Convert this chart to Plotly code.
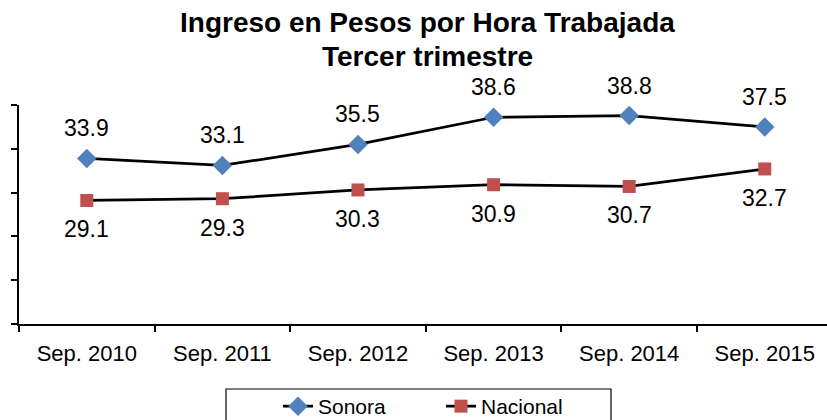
import plotly.graph_objects as go

categories = ["Sep. 2010", "Sep. 2011", "Sep. 2012", "Sep. 2013", "Sep. 2014", "Sep. 2015"]
sonora = [33.9, 33.1, 35.5, 38.6, 38.8, 37.5]
nacional = [29.1, 29.3, 30.3, 30.9, 30.7, 32.7]
title_lines = ["Ingreso en Pesos por Hora Trabajada", "Tercer trimestre"]

FONT = "Liberation Sans, Arial, sans-serif"
W, H = 827, 420
ML, MT, MB = 19, 105, 96
PW, PH = W - ML, H - MT - MB


def px_x(p):
    return (p - ML) / PW


def px_y(p):
    return (H - MB - p) / PH


fig = go.Figure()
fig.add_trace(go.Scatter(
    x=categories, y=sonora, name="Sonora", mode="lines+markers",
    line=dict(color="black", width=2.75),
    marker=dict(symbol="diamond", size=15, color="#4F81BD"),
))
fig.add_trace(go.Scatter(
    x=categories, y=nacional, name="Nacional", mode="lines+markers",
    line=dict(color="black", width=2.75),
    marker=dict(symbol="square", size=13, color="#C0504D"),
))

for xs, ys, shift in ((categories, sonora, 30), (categories, nacional, -29)):
    for xv, yv in zip(xs, ys):
        fig.add_annotation(x=xv, y=yv, text=f"{yv:.1f}", showarrow=False,
                           yshift=shift, font=dict(family=FONT, size=23, color="black"))

# two-line bold title
for line, cy in zip(title_lines, (23, 56)):
    fig.add_annotation(xref="paper", yref="paper", x=px_x(427), y=px_y(cy),
                       xanchor="center", yanchor="middle", showarrow=False,
                       text=f"<b>{line}</b>",
                       font=dict(family=FONT, size=28, color="black"))

# legend frame
fig.add_shape(type="rect", xref="paper", yref="paper",
              x0=px_x(226), x1=px_x(611), y0=px_y(389), y1=px_y(440),
              line=dict(color="black", width=1.2), fillcolor="white", layer="below")

fig.update_layout(
    width=W, height=H,
    margin=dict(l=ML, r=0, t=MT, b=MB, pad=0, autoexpand=False),
    paper_bgcolor="white", plot_bgcolor="white",
    showlegend=True,
    legend=dict(orientation="h", x=px_x(278), xanchor="left", y=px_y(386), yanchor="top",
                borderwidth=0, bgcolor="rgba(0,0,0,0)",
                entrywidth=118, entrywidthmode="pixels",
                font=dict(family=FONT, size=21, color="black")),
    font=dict(family=FONT, color="black"),
)
fig.update_xaxes(
    type="category", range=[-0.5, 5.459], showgrid=False,
    showline=True, linecolor="black", linewidth=1.5,
    ticks="outside", tickson="boundaries", ticklen=6, tickcolor="black", tickwidth=1.5,
    tickfont=dict(family=FONT, size=22, color="black"), ticklabelstandoff=9,
)
fig.update_yaxes(
    range=[15, 40], dtick=5, tick0=15, showgrid=False, zeroline=False,
    showline=True, linecolor="black", linewidth=1.5,
    ticks="outside", ticklen=6, tickcolor="black", tickwidth=1.5,
    showticklabels=False,
)

fig.write_html("out.html", config={"displayModeBar": False},
               post_script="document.body.style.margin='0';document.body.style.overflow='hidden';")
